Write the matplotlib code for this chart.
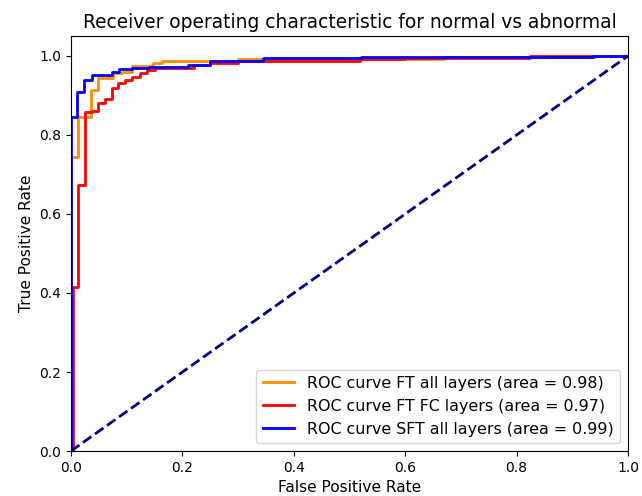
import matplotlib
matplotlib.use('Agg')
import matplotlib.pyplot as plt

# ROC curves (corner points, steps-post)
fpr_ft_all = [0, 0, 0.013, 0.036, 0.049, 0.076, 0.091, 0.109, 0.147, 0.163, 0.30, 0.67, 0.94, 1.0]
tpr_ft_all = [0, 0.745, 0.846, 0.914, 0.943, 0.956, 0.960, 0.975, 0.983, 0.988, 0.992, 0.997, 1.0, 1.0]

fpr_ft_fc = [0, 0.003, 0.013, 0.025, 0.037, 0.049, 0.061, 0.074, 0.085, 0.097, 0.109, 0.124,
             0.137, 0.151, 0.22, 0.25, 0.30, 0.519, 0.60, 0.824, 1.0]
tpr_ft_fc = [0, 0.415, 0.673, 0.857, 0.861, 0.882, 0.890, 0.918, 0.932, 0.939, 0.948, 0.956,
             0.964, 0.969, 0.977, 0.983, 0.988, 0.992, 0.995, 1.0, 1.0]

fpr_sft_all = [0, 0, 0.010, 0.023, 0.037, 0.074, 0.086, 0.109, 0.14, 0.21, 0.25, 0.345, 0.52, 0.937, 1.0]
tpr_sft_all = [0, 0.846, 0.910, 0.939, 0.952, 0.960, 0.966, 0.969, 0.973, 0.978, 0.988, 0.994, 0.997, 1.0, 1.0]

auc_vals = [0.98, 0.97, 0.99]
names = ['FT all layers', 'FT FC layers', 'SFT all layers']
colors = ['darkorange', 'red', 'blue']

fig = plt.figure(figsize=(6.42, 4.96), dpi=100)
ax = fig.add_axes([0.1106, 0.0907, 0.8676, 0.8363])

curves = [(fpr_ft_all, tpr_ft_all), (fpr_ft_fc, tpr_ft_fc), (fpr_sft_all, tpr_sft_all)]
for (fpr, tpr), name, auc, col in zip(curves, names, auc_vals, colors):
    ax.plot(fpr, tpr, color=col, lw=2, drawstyle='steps-post',
            label='ROC curve %s (area = %0.2f)' % (name, auc))

ax.plot([0, 1], [0, 1], color='navy', lw=2, linestyle='--')
ax.set_xlim([0.0, 1.0])
ax.set_ylim([0.0, 1.05])
ax.set_xlabel('False Positive Rate', fontsize=11.1)
ax.set_ylabel('True Positive Rate', fontsize=11.1)
ax.set_title('Receiver operating characteristic for normal vs abnormal', fontsize=13.4)
ax.legend(loc='lower right', fontsize=11.4)

plt.savefig('out.png', dpi=100)
plt.close()
